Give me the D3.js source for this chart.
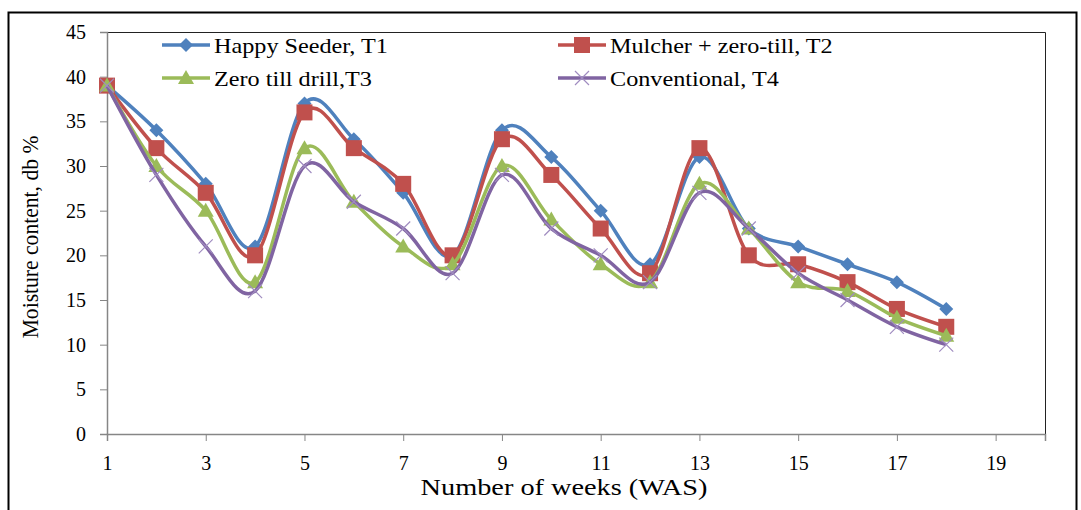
<!DOCTYPE html>
<html>
<head>
<meta charset="utf-8">
<script src="https://cdn.jsdelivr.net/npm/d3@7"></script>
<style>
  body { margin: 0; background: #fff; }
  text { font-family: "Liberation Serif", "Times New Roman", serif; fill: #000; }
</style>
</head>
<body>
<script>
// data
const weeks = [1,2,3,4,5,6,7,8,9,10,11,12,13,14,15,16,17,18]
const t1 = [39,34,28,21,37,33,27,20,34,31,25,19,31,23,21,19,17,14]
const t2 = [39,32,27,20,36,32,28,20,33,29,23,18,32,20,19,17,14,12]
const t3 = [39,30,25,17,32,26,21,19,30,24,19,17,28,23,17,16,13,11]
const t4 = [39,29,21,16,30,26,23,18,29,23,20,17,27,23,18,15,12,10]
const seriesNames = ["Happy Seeder, T1", "Mulcher + zero-till, T2", "Zero till drill,T3", "Conventional, T4"]
const xTicks = [1,3,5,7,9,11,13,15,17,19]
const yTicks = [0,5,10,15,20,25,30,35,40,45]

const colors = ["#4F81BD", "#C0504D", "#9BBB59", "#8064A2"]
const markers = ["diamond", "square", "triangle", "cross"]
const allSeries = [t1, t2, t3, t4]

var w = 1081
var h = 510
var padLeft = 107, padRight = 1045, padTop = 32, padBottom = 434

var svg = d3.select("body").append("svg")
  .attr("width", w)
  .attr("height", h)

// outer chart frame
svg.append("rect")
  .attr("x", 8.5).attr("y", 12.5)
  .attr("width", 1068).attr("height", 510)
  .attr("fill", "none").attr("stroke", "#000").attr("stroke-width", 2)

const x = d3.scaleLinear().domain([1, 20]).range([padLeft, padRight])
const y = d3.scaleLinear().domain([0, 45]).range([padBottom, padTop])

// plot area border (top + right)
svg.append("path")
  .attr("d", `M${padLeft},${padTop + 0.5}H${padRight + 0.5}V${padBottom}`)
  .attr("fill", "none").attr("stroke", "#222").attr("stroke-width", 1)

// y axis
const yAxis = d3.axisLeft(y).tickValues(yTicks).tickSize(7).tickPadding(14)
const gy = svg.append("g")
  .attr("transform", `translate(${padLeft},0)`)
  .call(yAxis)
gy.select(".domain").attr("stroke", "#868686").attr("stroke-width", 1.5)
gy.selectAll(".tick line").attr("stroke", "#868686")
gy.selectAll("text").style("font-size", "20px").style("font-family", "Liberation Serif")

// x axis
const xAxis = d3.axisBottom(x).tickValues(xTicks).tickSize(7).tickPadding(15)
const gx = svg.append("g")
  .attr("transform", `translate(0,${padBottom})`)
  .call(xAxis)
gx.select(".domain").attr("stroke", "#868686").attr("stroke-width", 1.5)
gx.selectAll(".tick line").attr("stroke", "#868686")
gx.selectAll("text").style("font-size", "20px").style("font-family", "Liberation Serif")

// axis titles
svg.append("text")
  .attr("transform", "translate(564,495) scale(1.18,1)")
  .attr("text-anchor", "middle")
  .style("font-size", "24px")
  .text("Number of weeks (WAS)")

svg.append("text")
  .attr("transform", "translate(38,237) rotate(-90) scale(0.9,1)")
  .attr("text-anchor", "middle")
  .style("font-size", "24px")
  .text("Moisture content, db %")

// marker drawing
function drawMarker(g, type, cx, cy, color) {
  if (type == "diamond") {
    g.append("path")
      .attr("d", `M${cx},${cy - 7}L${cx + 7},${cy}L${cx},${cy + 7}L${cx - 7},${cy}Z`)
      .attr("fill", color)
  } else if (type == "square") {
    g.append("rect")
      .attr("x", cx - 8).attr("y", cy - 8).attr("width", 16).attr("height", 16)
      .attr("fill", color)
  } else if (type == "triangle") {
    g.append("path")
      .attr("d", `M${cx},${cy - 8}L${cx + 8},${cy + 6}L${cx - 8},${cy + 6}Z`)
      .attr("fill", color)
  } else {
    g.append("path")
      .attr("d", `M${cx - 7},${cy - 7}L${cx + 7},${cy + 7}M${cx - 7},${cy + 7}L${cx + 7},${cy - 7}`)
      .attr("stroke", "#A08CC0").attr("stroke-width", 1.2).attr("fill", "none")
  }
}

const line = d3.line()
  .x((d, i) => x(weeks[i]))
  .y(d => y(d))
  .curve(d3.curveCardinal.tension(0))

// series lines + markers
allSeries.forEach((s, k) => {
  const g = svg.append("g")
  g.append("path")
    .datum(s)
    .attr("d", line)
    .attr("fill", "none")
    .attr("stroke", colors[k])
    .attr("stroke-width", 3.5)
  s.forEach((v, i) => drawMarker(g, markers[k], x(weeks[i]), y(v), colors[k]))
})

// legend
const legendPos = [[162, 45], [558, 45], [162, 78], [558, 78]]
seriesNames.forEach((name, k) => {
  const lx = legendPos[k][0], ly = legendPos[k][1]
  const g = svg.append("g")
  g.append("line")
    .attr("x1", lx).attr("x2", lx + 48)
    .attr("y1", ly).attr("y2", ly)
    .attr("stroke", colors[k]).attr("stroke-width", 3.5)
  drawMarker(g, markers[k], lx + 24, ly, colors[k])
  g.append("text")
    .attr("transform", `translate(${lx + 52},${ly + 8}) scale(1.1,1)`)
    .style("font-size", "22px")
    .text(name)
})
</script>
</body>
</html>
